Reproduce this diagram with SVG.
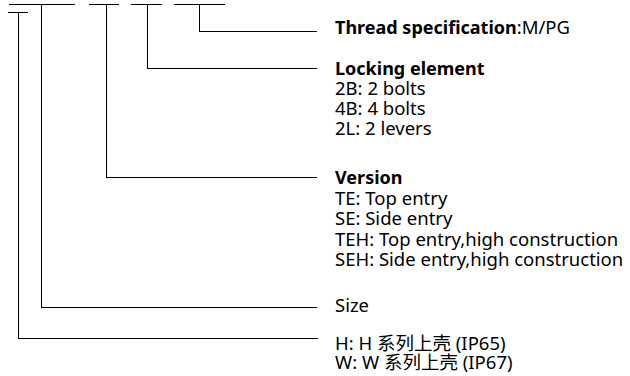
<svg xmlns="http://www.w3.org/2000/svg" width="630" height="376" viewBox="0 0 630 376">
<style>
.ln{stroke:#000;stroke-width:1;fill:none;shape-rendering:crispEdges}
text{font-family:"Noto Sans","Noto Sans CJK SC",sans-serif;font-size:18.5px;fill:#000}
.b{font-weight:bold;font-size:18px}
</style>
<rect width="630" height="376" fill="#fff"/>
<g id="connectors">
<path class="ln" d="M9 4.5H75M89 4.5H119M131 4.5H162M174 4.5H225"/>
<path class="ln" d="M8 12.5H28"/>
<path class="ln" d="M199.5 4V31.5H317"/>
<path class="ln" d="M147.5 4V68.5H317"/>
<path class="ln" d="M106.5 4V177.5H317"/>
<path class="ln" d="M41.5 4V307.5H317"/>
<path class="ln" d="M18.5 12V338.5H318"/>
</g>
<g id="thread"><text x="335" y="34"><tspan class="b">Thread specification</tspan>:M/PG</text></g>
<g id="locking"><text x="335" y="75" class="b">Locking element</text>
<text x="335" y="95">2B: 2 bolts</text>
<text x="335" y="115">4B: 4 bolts</text>
<text x="335" y="135">2L: 2 levers</text></g>
<g id="version"><text x="335" y="184" class="b">Version</text>
<text x="335" y="205">TE: Top entry</text>
<text x="335" y="225">SE: Side entry</text>
<text x="335" y="246">TEH: Top entry,high construction</text>
<text x="335" y="266">SEH: Side entry,high construction</text></g>
<g id="size"><text x="335" y="312">Size</text></g>
<g id="housing"><text x="335" y="350">H: H 系列上壳 (IP65)</text>
<text x="335" y="369">W: W 系列上壳 (IP67)</text></g>
</svg>
